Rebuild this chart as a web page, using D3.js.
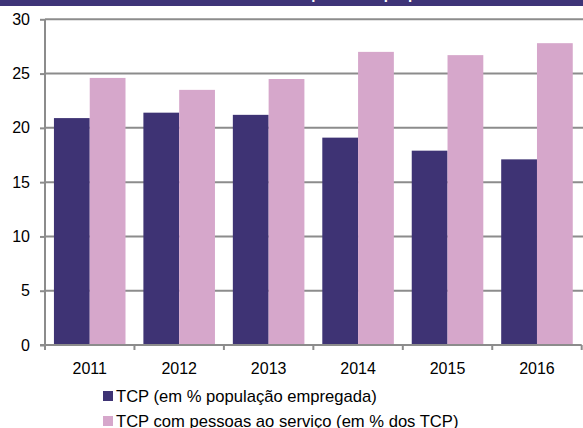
<!DOCTYPE html>
<html>
<head>
<meta charset="utf-8">
<script src="https://cdn.jsdelivr.net/npm/d3@7"></script>
<style>
  body { margin: 0; background: #fff; }
  svg { display: block; font-family: "Liberation Sans", Arial, sans-serif; }
</style>
</head>
<body>
<div id="chart"></div>
<script>
// data
const years = ["2011", "2012", "2013", "2014", "2015", "2016"];
const tcpEmpregada = [20.9, 21.4, 21.2, 19.1, 17.9, 17.1];
const tcpComPessoas = [24.6, 23.5, 24.5, 27.0, 26.7, 27.8];
const seriesNames = ["TCP (em % população empregada)", "TCP com pessoas ao serviço (em % dos TCP)"];
const yTicks = [0, 5, 10, 15, 20, 25, 30];
const titleText = "Trabalhadores por conta própria";

const W = 583, H = 428;
const colors = ["#3e3374", "#d6a7cb"];
const gridColor = "#8c8c8c";
const fontSize = "16px";

const svg = d3.select("#chart").append("svg")
    .attr("width", W)
    .attr("height", H);

// title band (cut off at the top, only descenders show)
svg.append("rect")
    .attr("x", 0).attr("y", 0)
    .attr("width", W).attr("height", 6)
    .attr("fill", "#3e3478");
svg.append("clipPath").attr("id", "titleClip")
    .append("rect").attr("x", 0).attr("y", 0).attr("width", W).attr("height", 6);
svg.append("text")
    .attr("clip-path", "url(#titleClip)")
    .attr("x", 320).attr("y", -1)
    .attr("text-anchor", "middle")
    .style("font-size", "15px")
    .style("font-weight", "bold")
    .attr("fill", "#fff")
    .text(titleText);

const plot = { left: 45, right: 581.7, top: 19.3, bottom: 345 };

const x0 = d3.scaleBand()
    .domain(years)
    .range([plot.left, plot.right])
    .paddingInner(0.2)
    .paddingOuter(0.1);
const x1 = d3.scaleBand()
    .domain([0, 1])
    .range([0, x0.bandwidth()]);
const y = d3.scaleLinear()
    .domain([0, 30])
    .range([plot.bottom, plot.top]);

// gridlines
svg.append("g")
    .selectAll("line")
    .data(yTicks.filter(d => d > 0))
    .join("line")
    .attr("x1", plot.left).attr("x2", W)
    .attr("y1", d => y(d)).attr("y2", d => y(d))
    .attr("stroke", gridColor)
    .attr("stroke-width", 2);

// bars
const groups = svg.append("g")
    .selectAll("g")
    .data(years.map((yr, i) => ({ yr, vals: [tcpEmpregada[i], tcpComPessoas[i]] })))
    .join("g")
    .attr("transform", d => `translate(${x0(d.yr)},0)`);
groups.selectAll("rect")
    .data(d => d.vals)
    .join("rect")
    .attr("x", (d, i) => x1(i))
    .attr("width", x1.bandwidth())
    .attr("y", d => y(d))
    .attr("height", d => y(0) - y(d))
    .attr("fill", (d, i) => colors[i]);

// y axis
const yAxis = svg.append("g")
    .attr("transform", `translate(${plot.left},0)`)
    .call(d3.axisLeft(y).tickValues(yTicks).tickSize(5).tickPadding(10).tickFormat(d3.format("d")));
yAxis.select(".domain").attr("stroke", gridColor).attr("stroke-width", 2)
    .attr("d", `M0,${plot.top}V${plot.bottom}`);
yAxis.selectAll(".tick line").attr("stroke", gridColor).attr("stroke-width", 2);
yAxis.selectAll(".tick text").style("font-size", fontSize).attr("fill", "#000");

// x axis (ticks between categories)
const xAxis = svg.append("g");
xAxis.append("line")
    .attr("x1", plot.left - 5).attr("x2", plot.right)
    .attr("y1", plot.bottom).attr("y2", plot.bottom)
    .attr("stroke", gridColor).attr("stroke-width", 2);
const boundaries = d3.range(years.length + 1).map(i => plot.left + i * x0.step());
xAxis.selectAll("line.tk")
    .data(boundaries)
    .join("line")
    .attr("class", "tk")
    .attr("x1", d => d).attr("x2", d => d)
    .attr("y1", plot.bottom).attr("y2", plot.bottom + 5)
    .attr("stroke", gridColor).attr("stroke-width", 2);
xAxis.selectAll("text")
    .data(years)
    .join("text")
    .attr("x", d => x0(d) + x0.bandwidth() / 2)
    .attr("y", 374)
    .attr("text-anchor", "middle")
    .style("font-size", fontSize)
    .text(d => d);

// legend
const legend = svg.append("g")
    .selectAll("g")
    .data(seriesNames)
    .join("g")
    .attr("transform", (d, i) => `translate(103,${391 + i * 25})`);
legend.append("rect")
    .attr("x", 0).attr("y", 0)
    .attr("width", 10).attr("height", 10)
    .attr("fill", (d, i) => colors[i]);
legend.append("text")
    .attr("x", 13).attr("y", 10.5)
    .style("font-size", "16.6px")
    .text(d => d);
</script>
</body>
</html>
